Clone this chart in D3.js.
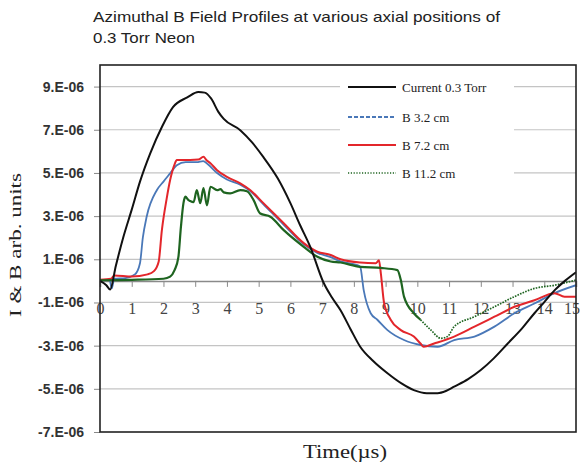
<!DOCTYPE html>
<html>
<head>
<meta charset="utf-8">
<script src="https://cdn.jsdelivr.net/npm/d3@7"></script>
<style>
  html, body { margin: 0; padding: 0; background: #fff; }
  svg { display: block; }
</style>
</head>
<body>
<svg id="chart" width="580" height="466"></svg>
<script>
// ---- Data (time in µs, values in units of 1e-6) ----
const titleLines = ["Azimuthal B Field Profiles at various axial positions of", "0.3 Torr Neon"];
const xTicks = [0,1,2,3,4,5,6,7,8,9,10,11,12,13,14,15];
const yTicks = [9,7,5,3,1,-1,-3,-5,-7];
const yTickLabels = ["9.E-06","7.E-06","5.E-06","3.E-06","1.E-06","-1.E-06","-3.E-06","-5.E-06","-7.E-06"];
const seriesNames = ["Current 0.3 Torr", "B 3.2 cm", "B 7.2 cm", "B 11.2 cm"];

const currentT = [0,0.2,0.32,0.5,0.73,1.0,1.26,1.58,1.95,2.3,2.75,3.1,3.3,3.5,3.73,3.9,4.42,4.8,5.15,5.6,6.0,6.3,6.63,7.05,7.3,7.58,7.9,8.2,8.6,9.06,9.5,9.89,10.3,10.64,10.9,11.16,11.6,12.0,12.4,12.85,13.3,13.69,14.0,14.33,14.65,15.0];
const currentV = [0,-0.2,-0.4,0.7,2.0,3.3,4.6,5.9,7.13,8.05,8.5,8.75,8.72,8.45,7.83,7.5,6.98,6.4,5.73,4.75,3.6,2.6,1.56,-0.1,-0.75,-1.36,-2.25,-3.05,-3.7,-4.28,-4.75,-5.06,-5.2,-5.2,-5.1,-4.9,-4.55,-4.13,-3.6,-2.9,-2.2,-1.5,-0.98,-0.43,0,0.4];

const b32T = [0,0.3,0.37,0.45,0.8,1.1,1.26,1.35,1.47,1.79,2.0,2.21,2.42,2.7,3.05,3.25,3.4,3.69,4.0,4.42,4.74,5.15,5.79,6.42,6.85,7.27,7.58,8.11,8.2,8.31,8.53,8.74,9.06,9.58,10.1,10.64,11.16,11.8,12.43,13.06,13.69,14.32,15.0];
const b32V = [0.05,0.05,-0.35,0.1,0.13,0.3,0.82,2.0,2.97,4.2,4.6,4.98,5.36,5.5,5.5,5.55,5.4,5.0,4.7,4.45,4.15,3.55,2.6,1.7,1.3,1.1,0.9,0.73,0.65,-0.43,-1.5,-1.8,-2.28,-2.74,-2.97,-3.05,-2.74,-2.58,-2.12,-1.5,-1.05,-0.57,-0.2];

const b72T = [0,0.35,0.45,1.0,1.5,1.7,1.85,1.95,2.1,2.21,2.35,2.42,2.84,3.1,3.26,3.35,3.48,3.69,4.0,4.42,4.74,5.15,5.79,6.42,6.85,7.27,7.58,8.2,8.69,8.79,8.85,8.95,9.16,9.48,9.89,10.1,10.2,10.53,11.16,11.8,12.43,13.06,13.69,14.32,14.64,15.0];
const b72V = [0.05,0.1,0.25,0.2,0.3,0.45,0.9,2.35,3.8,4.67,5.4,5.6,5.6,5.62,5.75,5.6,5.45,5.13,4.82,4.52,4.2,3.6,2.67,1.75,1.35,1.2,1.0,0.85,0.82,0.95,0.35,-1.0,-1.8,-2.28,-2.58,-2.9,-3.05,-2.9,-2.58,-2.12,-1.66,-1.2,-0.9,-0.57,-0.73,-0.73];

const b112T = [0,1,2,2.21,2.35,2.47,2.55,2.63,2.69,2.78,2.84,2.95,3.05,3.16,3.26,3.37,3.48,3.69,3.8,3.9,4.1,4.42,4.63,4.84,5.05,5.37,5.79,6.42,6.85,7.27,7.58,8.2,8.85,9.37,9.48,9.58,9.89,10.1,10.43,10.74,10.95,11.16,11.8,12.43,13.06,13.69,14.32,15.0];
const b112V = [0.03,0.05,0.1,0.2,0.5,1.1,2.5,3.6,3.9,3.75,3.7,3.65,4.2,3.6,4.3,3.5,4.36,4.2,4.25,4.1,4.05,4.2,4.15,3.74,3.12,2.97,2.35,1.58,1.12,0.9,0.85,0.65,0.6,0.5,0.04,-0.73,-1.5,-1.8,-2.28,-2.66,-2.58,-2.12,-1.66,-1.2,-0.73,-0.35,-0.2,0.04];

// ---- Layout ----
const svg = d3.select("#chart");
const L = 100, R = 576, T = 65, B = 432;
const x = d3.scaleLinear().domain([0, 15]).range([L, R]);
const y = d3.scaleLinear().domain([-7, 10]).range([B, T]);

// Title
svg.append("g").selectAll("text").data(titleLines).join("text")
  .attr("x", 93).attr("y", (d, i) => 22 + i * 21)
  .attr("font-family", "Liberation Sans, Arial, sans-serif")
  .attr("font-size", 14.5).attr("fill", "#222")
  .attr("textLength", (d, i) => i === 0 ? 407 : 102)
  .attr("lengthAdjust", "spacingAndGlyphs")
  .text(d => d);

// Grid lines
svg.append("g").selectAll("line").data(yTicks.filter(v => v > -7)).join("line")
  .attr("x1", L).attr("x2", R).attr("y1", d => y(d)).attr("y2", d => y(d))
  .attr("stroke", "#c4c4c4").attr("stroke-width", 1.2);

// Y axis ticks & labels
const yAxis = d3.axisLeft(y).tickValues(yTicks).tickSize(6).tickFormat((d, i) => yTickLabels[i]);
const gy = svg.append("g").attr("transform", `translate(${L},0)`).call(yAxis);
gy.select(".domain").remove();
gy.selectAll(".tick line").attr("stroke", "#888");
gy.selectAll(".tick text").attr("x", -16)
  .attr("font-family", "Liberation Sans, Arial, sans-serif")
  .attr("font-size", 14).attr("font-weight", "bold").attr("fill", "#333");

// X axis at zero
const xAxis = d3.axisBottom(x).tickValues(xTicks).tickSize(6).tickFormat(d3.format("d"));
const gx = svg.append("g").attr("transform", `translate(0,${y(0)})`).call(xAxis);
gx.select(".domain").attr("stroke", "#8a8a8a").attr("stroke-width", 1.5);
gx.selectAll(".tick line").attr("stroke", "#8a8a8a");
gx.selectAll(".tick text").attr("y", 22)
  .attr("font-family", "Liberation Serif, Times New Roman, serif")
  .attr("font-size", 16).attr("fill", "#444");
// keep the last label inside the picture
gx.selectAll(".tick text").filter(d => d === 15).attr("text-anchor", "end").attr("x", 3.5);

// Clip
svg.append("clipPath").attr("id", "clip").append("rect")
  .attr("x", L).attr("y", T).attr("width", R - L).attr("height", B - T);

const line = d3.line().x(d => x(d[0])).y(d => y(d[1])).curve(d3.curveMonotoneX);
const zip = (a, b) => a.map((t, i) => [t, b[i]]);

const colors = ["#111111", "#4a78b8", "#e3262b", "#1e6420"];
const widths = [2, 1.8, 2, 2.2];
const plotG = svg.append("g").attr("clip-path", "url(#clip)");

function drawSeries(si, pts) {
  plotG.append("path").datum(pts)
    .attr("d", line).attr("fill", "none")
    .attr("stroke", colors[si]).attr("stroke-width", widths[si])
    .attr("stroke-linejoin", "round");
}
drawSeries(1, zip(b32T, b32V));
drawSeries(2, zip(b72T, b72V));
// B 11.2 cm: dense dotted line looks solid on the slow part, dotted where steep
const g112 = zip(b112T, b112V);
const splitIdx = b112T.indexOf(10.1);
drawSeries(3, g112.slice(0, splitIdx + 1));
plotG.append("path").datum(g112.slice(splitIdx))
  .attr("d", line).attr("fill", "none")
  .attr("stroke", colors[3]).attr("stroke-width", 1.7)
  .attr("stroke-dasharray", "1.6,1.2");
drawSeries(0, zip(currentT, currentV));

// Plot frame
svg.append("rect").attr("x", L).attr("y", T).attr("width", R - L).attr("height", B - T)
  .attr("fill", "none").attr("stroke", "#222").attr("stroke-width", 1.6);

// Legend
const lg = svg.append("g");
lg.append("rect").attr("x", 340).attr("y", 74).attr("width", 174).attr("height", 112).attr("fill", "#fff");
const dashes = [null, "4,2", null, "1.2,1.6"];
const rowsY = [87, 117, 145, 173];
seriesNames.forEach((n, i) => {
  lg.append("line").attr("x1", 348).attr("x2", 396).attr("y1", rowsY[i]).attr("y2", rowsY[i])
    .attr("stroke", colors[i]).attr("stroke-width", i === 3 ? 1.6 : 2)
    .attr("stroke-dasharray", dashes[i]);
  lg.append("text").attr("x", 402).attr("y", rowsY[i] + 4.5)
    .attr("font-family", "Liberation Serif, Times New Roman, serif")
    .attr("font-size", 13).attr("fill", "#222").text(n);
});

// Axis titles
svg.append("text").attr("x", 345).attr("y", 458).attr("text-anchor", "middle")
  .attr("font-family", "Liberation Serif, Times New Roman, serif")
  .attr("font-size", 19).attr("fill", "#222")
  .attr("textLength", 84).attr("lengthAdjust", "spacingAndGlyphs")
  .text("Time(µs)");
svg.append("text").attr("transform", "translate(21,245) rotate(-90)").attr("text-anchor", "middle")
  .attr("font-family", "Liberation Serif, Times New Roman, serif")
  .attr("font-size", 17).attr("fill", "#222")
  .attr("textLength", 144).attr("lengthAdjust", "spacingAndGlyphs")
  .text("I & B arb. units");
</script>
</body>
</html>
